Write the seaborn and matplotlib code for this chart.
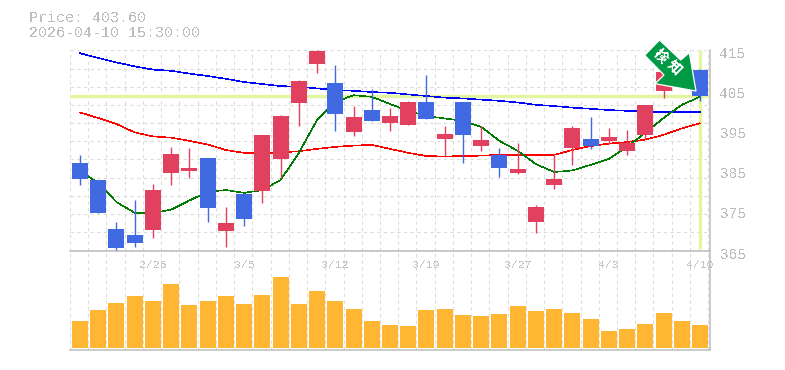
import matplotlib
matplotlib.use('Agg')
import numpy as np
import pandas as pd
import seaborn as sns
from matplotlib import pyplot as plt
from matplotlib.patches import Polygon
from matplotlib.transforms import ScaledTranslation

# candle data, one entry per trading day (oldest first)
opens = [386.9, 382.6, 370.4, 368.9, 370.1, 384.4, 384.9, 388.1, 369.9, 379.1, 379.9, 387.9,
         401.9, 411.6, 406.9, 394.6, 400.1, 396.9, 396.4, 402.1, 392.9, 402.1, 391.1, 388.9,
         384.4, 372.1, 381.4, 390.6, 392.9, 392.4, 389.9, 393.9, 404.9, 406.1, 410.1]
highs = [388.9, 382.6, 372.1, 377.6, 381.6, 390.9, 390.6, 388.1, 375.9, 379.1, 393.9, 398.9,
         407.6, 415.1, 411.4, 401.1, 405.4, 400.6, 402.4, 408.9, 396.1, 402.1, 396.1, 390.6,
         391.9, 376.4, 389.1, 396.1, 398.4, 395.6, 395.1, 401.4, 409.6, 409.6, 410.4]
lows = [381.4, 374.4, 365.1, 365.9, 368.1, 381.4, 383.1, 372.1, 365.9, 371.1, 376.9, 383.1,
        396.1, 409.4, 394.9, 393.6, 397.4, 394.9, 396.4, 397.9, 388.4, 386.9, 389.9, 383.4,
        384.1, 369.4, 380.4, 386.4, 390.4, 391.6, 388.9, 392.9, 403.1, 406.1, 402.4]
closes = [382.9, 374.4, 365.7, 366.9, 380.1, 389.1, 385.6, 375.6, 371.9, 372.9, 393.9, 398.6,
          407.4, 414.9, 399.1, 398.4, 397.4, 398.6, 402.1, 397.9, 394.1, 393.9, 392.6, 385.6,
          385.4, 375.9, 382.9, 395.6, 391.1, 393.4, 391.9, 401.4, 409.6, 409.6, 403.6]

ma_long = [414.3, 413.1, 412.0, 411.0, 410.2, 409.9, 409.2, 408.6, 407.9, 407.1, 406.6, 406.1,
           405.9, 405.5, 405.1, 404.9, 404.6, 404.4, 404.0, 403.6, 403.2, 403.0, 402.7, 402.4,
           402.0, 401.4, 401.1, 400.7, 400.4, 400.1, 399.9, 399.7, 399.6, 399.6, 399.6]
ma_mid = [399.5, 398.1, 396.6, 394.5, 393.5, 393.2, 392.4, 391.5, 390.1, 389.4, 389.2, 389.5,
          389.8, 390.4, 390.9, 391.2, 391.4, 390.4, 389.4, 388.6, 388.5, 388.6, 388.7, 388.9,
          388.9, 388.8, 388.9, 390.1, 391.1, 391.7, 392.1, 392.7, 393.9, 395.5, 396.8]
ma_short = [384.9, 381.9, 377.1, 374.4, 374.4, 375.2, 377.5, 379.7, 380.1, 379.4, 380.1, 382.6,
            389.4, 397.6, 402.1, 403.8, 403.4, 401.6, 399.9, 398.6, 398.0, 397.4, 395.9, 392.4,
            389.9, 386.6, 384.6, 385.0, 386.4, 387.9, 390.9, 394.4, 398.1, 401.4, 403.4]

volumes = [27, 38, 45, 52, 47, 64, 43, 47, 52, 44, 53, 71, 44, 57, 47, 39, 27, 23,
           22, 38, 39, 33, 32, 34, 42, 37, 39, 35, 29, 17, 19, 24, 35, 27, 23]

date_ticks = [4, 9, 14, 19, 24, 29, 34]
date_labels = ['2/26', '3/5', '3/12', '3/19', '3/27', '4/3', '4/10']
price_ticks = [365, 375, 385, 395, 405, 415]
last_price = 403.6
title_lines = ['Price: 403.60', '2026-04-10 15:30:00']
arrow_label = ['検', '知']

W, H = 785, 370
BLUE = '#4169e1'
RED = '#e1405f'
GREY = '#bdbdbd'
LIME = '#e2f6a0'

df = pd.DataFrame({'day': range(len(opens)), 'open': opens, 'high': highs, 'low': lows,
                   'close': closes, 'volume': volumes})
df['color'] = np.where(df['close'] >= df['open'], RED, BLUE)

sns.set_theme(style='white')
plt.rcParams['font.family'] = ['Liberation Mono', 'Noto Sans CJK JP', 'DejaVu Sans']
plt.rcParams['text.antialiased'] = False

fig = plt.figure(figsize=(W / 100, H / 100), dpi=100)
ax = fig.add_axes([70 / W, 1 - 250.5 / H, 640 / W, 200.5 / H])
ax_vol = fig.add_axes([70 / W, 1 - 350.3 / H, 640 / W, 99.8 / H])

xlim = (-0.55, 34.55)
grid_x = np.arange(0, 36) - 0.55
grid_style = dict(color='#dcdcdc', lw=0.8, ls=(0, (3, 3)), zorder=0)

# price panel
ax.set_xlim(xlim)
ax.set_ylim(365, 415.1)
for x in grid_x:
    ax.axvline(x, **grid_style)
for k in range(12):
    ax.axhline(415 - k * 18.15 / 4, **grid_style)
ax.axhline(last_price, color=LIME, lw=2.4, zorder=1)
ax.plot([34, 34], [365.4, 415], color=LIME, lw=2.4, zorder=1, solid_capstyle='butt')

sns.lineplot(x=df['day'], y=ma_long, color='#0000ff', lw=0.4, ax=ax, zorder=2, antialiased=False)
sns.lineplot(x=df['day'], y=ma_mid, color='#ff0000', lw=0.4, ax=ax, zorder=2, antialiased=False)
sns.lineplot(x=df['day'], y=ma_short, color='#007a00', lw=0.4, ax=ax, zorder=2, antialiased=False)

ax.vlines(df['day'], df['low'], df['high'], colors=df['color'], lw=1.0, zorder=3)
ax.bar(df['day'], (df['close'] - df['open']).abs(), bottom=df[['open', 'close']].min(axis=1),
       width=16 / 18.235, color=df['color'], lw=0, zorder=3)
ax.set_xlabel('')
ax.set_ylabel('')
ax.set_xticks([])
ax.yaxis.tick_right()
ax.set_yticks(price_ticks)
ax.tick_params(axis='y', length=0, pad=7, labelsize=10.4, labelcolor='#bdbdbd')
for lab in ax.get_yticklabels():
    lab.set_fontfamily('Liberation Mono')
    lab.set_transform(lab.get_transform() + ScaledTranslation(0, -2.5 / 100, fig.dpi_scale_trans))

# volume panel
ax_vol.set_xlim(xlim)
ax_vol.set_ylim(-2.3, 97.5)
for x in grid_x:
    ax_vol.axvline(x, **grid_style)
sns.barplot(data=df, x='day', y='volume', native_scale=True, color='#ffb733', saturation=1,
            width=16 / 18.235, lw=0, ax=ax_vol, zorder=2)
ax_vol.set_xlim(xlim)
ax_vol.set_ylim(-2.3, 97.5)
ax_vol.set_xlabel('')
ax_vol.set_ylabel('')
ax_vol.set_yticks([])
ax_vol.set_xticks(date_ticks)
ax_vol.set_xticklabels(date_labels)
ax_vol.xaxis.tick_top()
ax_vol.tick_params(axis='x', length=0, pad=-14, labelsize=8.2, labelcolor='#c4c4c4')
for lab in ax_vol.get_xticklabels():
    lab.set_fontfamily('Liberation Mono')

for a in (ax, ax_vol):
    for side, spine in a.spines.items():
        spine.set_visible(side in ('bottom', 'right'))
        spine.set_color(GREY)
        spine.set_linewidth(1.1)
    a.patch.set_alpha(0)

# overlay in pixel coordinates for header and arrow badge
ov = fig.add_axes([0, 0, 1, 1], zorder=5)
ov.set_xlim(0, W)
ov.set_ylim(H, 0)
ov.axis('off')
for i, line in enumerate(title_lines):
    ov.text(29, 18 + i * 15, line, fontsize=10.8, color=GREY, va='center', ha='left',
            family='Liberation Mono')
arrow_pts = [(659.5, 40), (644.7, 55.3), (664, 75), (655, 83.7), (696, 91), (689.3, 52.7), (680.7, 60)]
ov.add_patch(Polygon(arrow_pts, closed=True, fc='#009944', ec='white', lw=0.9))
ov.text(660, 56.5, arrow_label[0], rotation=-45, color='white', fontsize=10, fontweight='bold',
        ha='center', va='center', family='Noto Sans CJK JP')
ov.text(673, 68, arrow_label[1], rotation=-45, color='white', fontsize=10, fontweight='bold',
        ha='center', va='center', family='Noto Sans CJK JP')

fig.savefig('out.png', dpi=100)
